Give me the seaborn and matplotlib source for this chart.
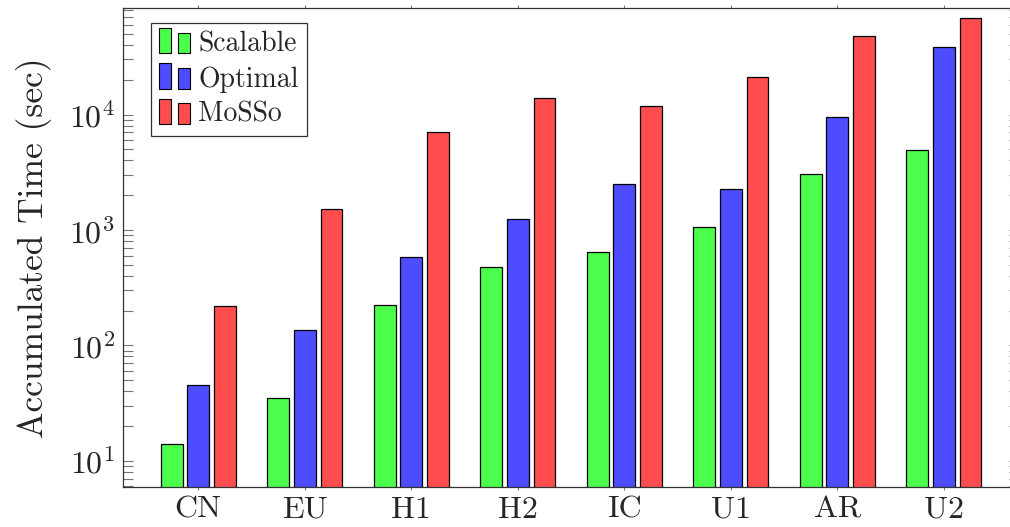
import matplotlib
matplotlib.use("Agg")
import matplotlib.pyplot as plt
from matplotlib.legend_handler import HandlerBase
from matplotlib.patches import Rectangle
from matplotlib.ticker import LogLocator, NullFormatter
import pandas as pd
import seaborn as sns

datasets = ["CN", "EU", "H1", "H2", "IC", "U1", "AR", "U2"]
scalable = [14, 35, 222, 474, 640, 1053, 3030, 4950]
optimal = [45, 136, 582, 1236, 2480, 2275, 9510, 38500]
mosso = [220, 1517, 7050, 14000, 11900, 21300, 48200, 68200]
methods = ["Scalable", "Optimal", "MoSSo"]
colors = ["#4DFF4D", "#4D4DFF", "#FF4D4D"]

df = pd.DataFrame({
    "dataset": datasets * 3,
    "method": [m for m in methods for _ in datasets],
    "time": scalable + optimal + mosso,
})

sns.set_theme(style="ticks")
plt.rcParams["font.family"] = ["cmr10", "DejaVu Serif"]
plt.rcParams["mathtext.fontset"] = "cm"
plt.rcParams["axes.formatter.use_mathtext"] = True

fig = plt.figure(figsize=(10.10, 5.27), dpi=100)
ax = fig.add_axes([0.1221, 0.0753, 0.8866, 0.9095])

sns.barplot(
    data=df, x="dataset", y="time", hue="method",
    order=datasets, hue_order=methods, palette=colors,
    width=0.75, gap=0.18, saturation=1.0,
    edgecolor="black", linewidth=0.9, ax=ax, legend=False,
)

ax.set_yscale("log")
ax.set_ylim(5.88, 83750)
ax.set_xlim(-0.704, 7.704)
ax.yaxis.set_major_locator(LogLocator(base=10, numticks=10))
ax.yaxis.set_minor_locator(LogLocator(base=10, subs=range(2, 10), numticks=20))
ax.yaxis.set_minor_formatter(NullFormatter())

ax.tick_params(axis="y", which="both", direction="in", length=7, width=0.8,
               color="#777777", labelsize=23, left=True, right=True, pad=6)
ax.tick_params(axis="x", which="major", direction="out", length=2.5, width=0.8,
               color="#777777", labelsize=23, top=True, bottom=True, pad=4)
for side in ["left", "right", "top", "bottom"]:
    ax.spines[side].set_visible(True)
    ax.spines[side].set_color("#333333")
    ax.spines[side].set_linewidth(0.9)

ax.set_xlabel("")
ax.set_ylabel("Accumulated Time (sec)", fontsize=25.5, labelpad=12)


class TwoBarHandler(HandlerBase):
    """Legend key drawn as two small bars, one taller than the other."""

    def create_artists(self, legend, orig_handle, xdescent, ydescent,
                       width, height, fontsize, trans):
        fc = orig_handle.get_facecolor()
        h = height * 1.3
        tall = Rectangle((-xdescent, -ydescent - 0.1 * height), 0.38 * width, h,
                         facecolor=fc, edgecolor="black", linewidth=0.8,
                         transform=trans)
        short = Rectangle((-xdescent + 0.62 * width, -ydescent - 0.1 * height),
                          0.38 * width, h * 0.82,
                          facecolor=fc, edgecolor="black", linewidth=0.8,
                          transform=trans)
        return [tall, short]


handles = [Rectangle((0, 0), 1, 1, facecolor=c) for c in colors]
leg = ax.legend(
    handles, methods, handler_map={Rectangle: TwoBarHandler()},
    loc="upper left", bbox_to_anchor=(0.0309, 0.9693), borderaxespad=0,
    fontsize=20, frameon=True, fancybox=False, handlelength=1.1,
    handletextpad=0.3, labelspacing=0.32, borderpad=0.3,
)
leg.get_frame().set_edgecolor("black")
leg.get_frame().set_linewidth(0.9)

fig.savefig("out.png", dpi=100)
